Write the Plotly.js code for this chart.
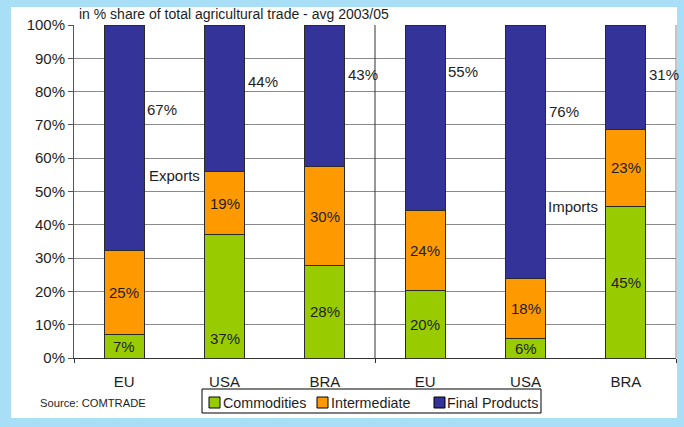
<!DOCTYPE html>
<html>
<head>
<meta charset="utf-8">
<script src="https://cdn.plot.ly/plotly-3.0.1.min.js"></script>
<style>html,body{margin:0;padding:0;background:#fff;}#chart{width:684px;height:427px;}</style>
</head>
<body>
<div id="chart"></div>
<script>
// ---- data ----
const categories = ['EU', 'USA', 'BRA', 'EU', 'USA', 'BRA'];
const commodities = [7, 37, 28, 20, 6, 45];
const intermediate = [25, 19, 30, 24, 18, 23];
const finalProducts = [67, 44, 43, 55, 76, 31];
const seriesNames = ['Commodities', 'Intermediate', 'Final Products'];
const groupLabels = ['Exports', 'Imports'];
const yTickVals = [0, 10, 20, 30, 40, 50, 60, 70, 80, 90, 100];
const titleText = 'in % share of total agricultural trade - avg 2003/05';
const sourceText = 'Source: COMTRADE';

// ---- label placement (manual, as in the original) ----
const commodityLabelShift = [0, -12.5, 0, 0, 0, 0];
const finalLabelY = [74.5, 83, 85, 86, 74, 85];
const groupLabelPos = [{x: 0.25, y: 54.7}, {x: 4.225, y: 45.6}];

// ---- geometry helpers (plot area in px) ----
const PL = 74, PR = 676, PT = 25, PB = 358;
const px = v => (v - PL) / (PR - PL);
const py = v => (PB - v) / (PB - PT);

const FONT = '"Liberation Sans", Arial, sans-serif';
const TXT = '#1e1e1e';
const colors = ['#99cc00', '#ff9900', '#333399'];
const xIdx = categories.map((_, i) => i);

const traces = [commodities, intermediate, finalProducts].map((vals, k) => ({
  type: 'bar',
  x: xIdx,
  y: vals,
  name: seriesNames[k],
  marker: {color: colors[k], line: {color: '#2a2a2a', width: 1}},
  width: 0.4,
  showlegend: false,
  hoverinfo: 'skip'
}));

const annotations = [];
const lblFont = {family: FONT, size: 15, color: TXT};
xIdx.forEach(i => {
  const sum = commodities[i] + intermediate[i] + finalProducts[i];
  const c = commodities[i] / sum * 100;
  const m = intermediate[i] / sum * 100;
  annotations.push({x: i, y: c / 2 + commodityLabelShift[i], xref: 'x', yref: 'y', text: commodities[i] + '%', showarrow: false, font: lblFont});
  annotations.push({x: i, y: c + m / 2, xref: 'x', yref: 'y', text: intermediate[i] + '%', showarrow: false, font: lblFont});
  annotations.push({x: i, y: finalLabelY[i], xref: 'x', yref: 'y', xanchor: 'left', xshift: 21, text: finalProducts[i] + '%', showarrow: false, font: lblFont});
});
groupLabels.forEach((g, k) => {
  annotations.push({x: groupLabelPos[k].x, y: groupLabelPos[k].y, xref: 'x', yref: 'y', xanchor: 'left', xshift: -2, text: g, showarrow: false, font: lblFont});
});
annotations.push({x: px(77), y: 1.0, xref: 'paper', yref: 'paper', xanchor: 'left', yanchor: 'bottom', yshift: 1, text: titleText, showarrow: false, font: {family: FONT, size: 14, color: TXT}});
annotations.push({x: px(38), y: py(403), xref: 'paper', yref: 'paper', xanchor: 'left', yanchor: 'middle', text: sourceText, showarrow: false, font: {family: FONT, size: 11.2, color: TXT}});

const shapes = [
  {type: 'rect', xref: 'paper', yref: 'paper', x0: px(11), x1: px(677), y0: py(418), y1: py(7), fillcolor: '#ffffff', line: {width: 0}, layer: 'below'},
  {type: 'line', xref: 'paper', yref: 'paper', x0: 1, x1: 1, y0: 0, y1: 1, line: {color: '#8a8a8a', width: 1}},
  {type: 'line', xref: 'x', yref: 'paper', x0: 2.5, x1: 2.5, y0: 0, y1: 1, line: {color: '#333', width: 1}},
  // legend box
  {type: 'rect', xref: 'paper', yref: 'paper', x0: px(202), x1: px(541), y0: py(413), y1: py(389), fillcolor: '#ffffff', line: {color: '#000', width: 1}}
];
// legend entries (symbol square + text)
const legendSymX = [209, 317, 434];
const legendTxtX = [221, 329, 445];
seriesNames.forEach((name, k) => {
  shapes.push({type: 'rect', xref: 'paper', yref: 'paper', x0: px(legendSymX[k]), x1: px(legendSymX[k] + 11), y0: py(408), y1: py(397), fillcolor: colors[k], line: {color: '#000', width: 1}});
  annotations.push({x: px(legendTxtX[k]), y: py(402.5), xref: 'paper', yref: 'paper', xanchor: 'left', yanchor: 'middle', text: name, showarrow: false, font: {family: FONT, size: 14.3, color: TXT}});
});

const layout = {
  width: 684, height: 427,
  margin: {l: PL, r: 684 - PR, t: PT, b: 427 - PB},
  paper_bgcolor: '#a9def7',
  plot_bgcolor: '#ffffff',
  barmode: 'stack',
  barnorm: 'percent',
  showlegend: false,
  xaxis: {
    range: [-0.5, 5.5],
    tickvals: xIdx, ticktext: categories,
    showgrid: false, zeroline: false,
    showline: true, linecolor: '#333', linewidth: 1,
    ticks: '', ticklabelstandoff: 10,
    minor: {tickmode: 'array', tickvals: [-0.5, 2.5, 5.5], ticks: 'outside', ticklen: 4, tickcolor: '#333', showgrid: false},
    tickfont: {family: FONT, size: 15, color: TXT},
    fixedrange: true
  },
  yaxis: {
    range: [0, 100],
    tickvals: yTickVals, ticktext: yTickVals.map(v => v + '%'),
    showgrid: true, gridcolor: '#8a8a8a', gridwidth: 1,
    zeroline: false,
    showline: true, linecolor: '#555', linewidth: 1,
    ticks: 'outside', ticklen: 5, tickcolor: '#555',
    tickfont: {family: FONT, size: 15, color: TXT},
    fixedrange: true
  },
  shapes: shapes,
  annotations: annotations,
  font: {family: FONT}
};

Plotly.newPlot('chart', traces, layout, {displayModeBar: false, staticPlot: true});
</script>
</body>
</html>
